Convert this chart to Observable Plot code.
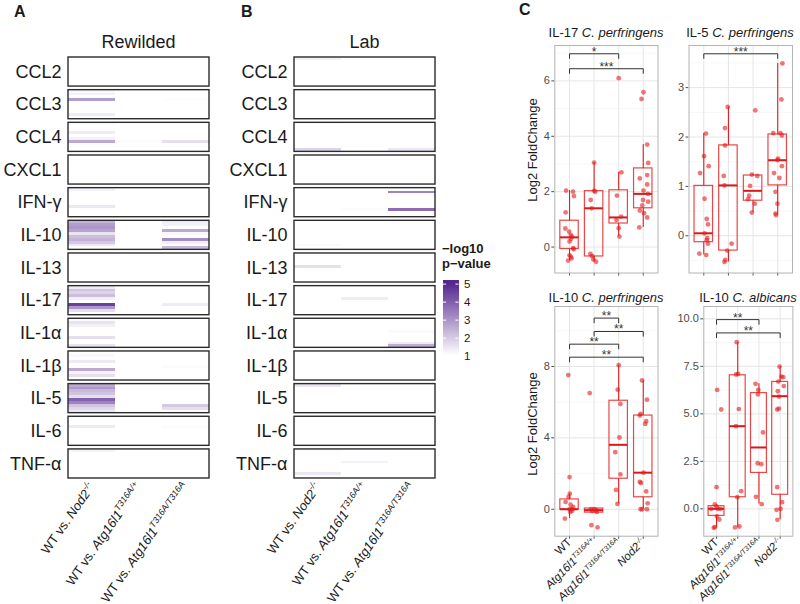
<!DOCTYPE html>
<html><head><meta charset="utf-8">
<script src="https://cdn.jsdelivr.net/npm/d3@7"></script>
<script src="https://cdn.jsdelivr.net/npm/@observablehq/plot@0.6"></script>
<style>
body{margin:0;background:#fff;}
#root{position:relative;width:800px;height:604px;overflow:hidden;background:#fff;}
#root svg{position:absolute;overflow:visible;}
</style></head><body><div id="root"></div>
<script>
const FONT = '"Liberation Sans", Arial, Helvetica, sans-serif';
const RED = "#e41a1c";

// ---------- heatmap data ----------
const cytokines = ["CCL2","CCL3","CCL4","CXCL1","IFN-γ","IL-10","IL-13","IL-17","IL-1α","IL-1β","IL-5","IL-6","TNF-α"];
// comparison labels: [plain, italic gene, superscript]
const comparisons = [["WT vs. ","Nod2","-/-"],["WT vs. ","Atg16l1","T316A/+"],["WT vs. ","Atg16l1","T316A/T316A"]];
// [cytokine, comparison index, sub-row (0 top .. 9 bottom), -log10 p-value]
const rewildedCells = [
  ["CCL3",0,0,1.15],["CCL3",0,1,1.25],["CCL3",0,3,2.8],["CCL3",0,8,1.35],["CCL3",2,3,1.05],
  ["CCL4",0,0,1.1],["CCL4",0,3,1.35],["CCL4",0,5,1.25],["CCL4",0,6,2.6],["CCL4",1,6,1.08],["CCL4",2,6,1.6],
  ["IFN-γ",0,0,1.25],["IFN-γ",0,6,1.45],
  ["IL-10",0,0,2.4],["IL-10",0,1,2.8],["IL-10",0,2,2.9],["IL-10",0,3,2.7],["IL-10",0,4,1.5],["IL-10",0,5,2.2],["IL-10",0,6,2.4],["IL-10",0,7,2.0],["IL-10",0,8,1.4],
  ["IL-10",2,0,1.35],["IL-10",2,1,1.25],["IL-10",2,3,2.6],["IL-10",2,4,1.15],["IL-10",2,6,3.1],["IL-10",2,7,1.3],["IL-10",2,9,2.3],
  ["IL-17",0,0,1.4],["IL-17",0,1,2.1],["IL-17",0,2,1.8],["IL-17",0,3,2.2],["IL-17",0,4,1.3],["IL-17",0,6,4.5],["IL-17",0,7,2.9],["IL-17",0,8,1.6],["IL-17",2,6,1.35],
  ["IL-1α",0,0,1.1],["IL-1α",0,1,1.5],["IL-1α",0,2,1.3],["IL-1α",0,6,1.6],["IL-1α",0,9,1.5],
  ["IL-1β",0,1,1.15],["IL-1β",0,3,1.4],["IL-1β",0,6,2.6],["IL-1β",0,7,1.2],["IL-1β",0,8,1.6],["IL-1β",2,5,1.07],
  ["IL-5",0,0,2.6],["IL-5",0,1,2.9],["IL-5",0,2,2.3],["IL-5",0,3,2.1],["IL-5",0,4,1.6],["IL-5",0,5,3.9],["IL-5",0,6,3.3],["IL-5",0,7,2.1],["IL-5",0,8,1.7],["IL-5",0,9,1.4],
  ["IL-5",2,7,2.0],["IL-5",2,8,1.6],
  ["IL-6",0,3,1.4],["IL-6",2,3,1.06],
  ["TNF-α",0,0,1.2]
];
const labCells = [
  ["CCL2",0,0,1.25],
  ["CCL4",0,0,1.05],["CCL4",0,9,1.8],["CCL4",2,9,1.45],
  ["IFN-γ",1,7,1.06],["IFN-γ",2,1,3.3],["IFN-γ",2,7,3.7],
  ["IL-10",0,8,1.12],
  ["IL-13",0,4,1.6],
  ["IL-17",1,4,1.35],
  ["IL-1α",2,4,1.12],["IL-1α",2,8,1.35],["IL-1α",2,9,2.5],
  ["IL-5",0,0,1.5],
  ["TNF-α",0,0,1.06],["TNF-α",0,8,1.45],["TNF-α",1,4,1.25]
];
const pvalTicks = [1,2,3,4,5];

// ---------- boxplot data (panel C) ----------
// groups: 1 WT, 2 Atg16l1 T316A/+, 3 Atg16l1 T316A/T316A, 4 Nod2 -/-
const groupLabels = [["WT","",""],["","Atg16l1","T316A/+"],["","Atg16l1","T316A/T316A"],["","Nod2","-/-"]];
// points: [group, log2 fold change, horizontal jitter]
const il17Points = [
 [1,2.04,-0.14],[1,2.0,0.14],[1,1.84,0.18],[1,1.25,-0.16],[1,0.67,-0.17],[1,0.56,-0.02],[1,0.44,0.05],[1,0.38,0.1],[1,0.3,0.06],[1,0.2,0.0],[1,-0.04,0.15],[1,-0.08,0.17],[1,-0.3,0.0],[1,-0.35,0.05],[1,-0.41,0.08],[1,-0.49,-0.06],
 [2,3.05,0.0],[2,2.03,0.0],[2,2.0,0.04],[2,1.7,-0.14],[2,1.4,-0.1],[2,-0.25,-0.15],[2,-0.33,-0.08],[2,-0.45,-0.03],[2,-0.53,0.08],
 [3,6.1,0.0],[3,2.7,0.11],[3,1.86,-0.07],[3,1.1,0.1],[3,0.98,-0.09],[3,0.68,0.0],[3,0.38,0.03],
 [4,5.59,0.01],[4,5.35,-0.07],[4,3.7,0.16],[4,3.04,0.2],[4,2.6,0.16],[4,2.48,-0.14],[4,2.26,0.16],[4,2.04,0.01],[4,1.92,0.19],[4,1.7,-0.01],[4,1.64,0.2],[4,1.5,-0.04],[4,1.32,-0.14],[4,1.22,0.03],[4,1.07,0.16],[4,0.71,-0.16]
];
// boxes: [lower whisker, Q1, median, Q3, upper whisker]
const il17Boxes = [[-0.49,-0.07,0.35,0.95,2.04],[-0.53,-0.34,1.4,2.02,3.05],[0.38,0.85,1.07,2.05,2.7],[0.71,1.4,1.92,2.84,3.7]];
const il17Brackets = [[1,3,6.98,"*"],[1,4,6.44,"***"]];
const il17Ticks = [0,2,4,6];

const il5Points = [
 [1,2.07,0.09],[1,1.61,0.01],[1,1.41,0.2],[1,1.27,-0.15],[1,0.75,0.03],[1,0.34,0.12],[1,0.23,0.17],[1,0.05,0.03],[1,-0.05,0.14],[1,-0.09,0.12],[1,-0.16,0.17],[1,-0.36,-0.18],[1,-0.39,0.1],
 [2,2.61,-0.03],[2,2.18,-0.14],[2,1.83,-0.14],[2,1.21,-0.19],[2,1.02,-0.16],[2,-0.16,0.13],[2,-0.3,-0.05],[2,-0.49,-0.13],[2,-0.53,-0.16],
 [3,2.54,0.09],[3,1.24,-0.05],[3,1.21,0.17],[3,1.01,-0.12],[3,0.81,-0.16],[3,0.74,-0.2],[3,0.65,0.07],[3,0.47,-0.05],
 [4,3.49,0.19],[4,2.76,0.15],[4,2.08,-0.18],[4,2.08,0.11],[4,2.03,0.17],[4,1.56,0.01],[4,1.53,-0.01],[4,1.41,0.17],[4,1.27,-0.15],[4,1.17,0.07],[4,0.89,-0.09],[4,0.65,-0.01],[4,0.45,-0.09],[4,0.42,-0.07]
];
const il5Boxes = [[-0.39,-0.13,0.05,1.01,2.07],[-0.53,-0.3,1.02,1.83,2.61],[0.47,0.71,0.91,1.22,1.24],[0.42,1.02,1.53,2.05,3.49]];
const il5Brackets = [[1,4,3.685,"***"]];
const il5Ticks = [0,1,2,3];

const il10cpPoints = [
 [1,7.52,-0.05],[1,1.8,0.0],[1,0.87,0.01],[1,0.69,-0.04],[1,0.41,-0.16],[1,0.26,0.04],[1,0.13,0.15],[1,0.0,0.0],[1,0.02,0.1],[1,-0.09,0.11],[1,-0.15,0.03],[1,-0.52,-0.19],
 [2,6.51,-0.18],[2,0.0,-0.13],[2,0.0,0.0],[2,-0.05,0.09],[2,-0.1,-0.07],[2,-0.15,0.11],[2,-0.89,-0.11],[2,-1.02,0.14],
 [3,8.07,0.0],[3,6.7,-0.04],[3,5.9,0.07],[3,4.02,0.03],[3,3.2,-0.14],[3,1.95,0.07],[3,1.08,-0.11],[3,0.3,-0.05],
 [4,7.22,-0.05],[4,6.14,0.15],[4,5.34,-0.11],[4,5.25,-0.14],[4,4.93,0.12],[4,4.78,0.08],[4,2.05,0.01],[4,1.53,-0.14],[4,1.47,-0.09],[4,1.0,0.12],[4,0.33,0.18],[4,0.0,-0.11],[4,0.0,-0.04],[4,0.0,0.15]
];
const il10cpBoxes = [[-0.52,-0.02,0.0,0.55,0.87],[-0.2,-0.19,-0.05,0.04,0.04],[0.3,1.71,3.61,6.08,8.07],[0.0,0.67,2.05,5.25,7.22]];
const il10cpBrackets = [[2,3,10.71,"**"],[2,4,9.96,"**"],[1,3,9.25,"**"],[1,4,8.52,"**"]];
const il10cpTicks = [0,4,8];

const il10caPoints = [
 [1,6.26,0.03],[1,5.23,0.22],[1,1.14,0.0],[1,0.23,-0.08],[1,0.12,0.0],[1,0.0,-0.25],[1,0.0,0.06],[1,0.0,0.19],[1,-0.4,0.02],[1,-0.56,0.13],[1,-0.96,-0.08],[1,-1.0,-0.13],
 [2,8.77,-0.05],[2,7.1,0.02],[2,7.07,-0.08],[2,5.25,0.05],[2,4.35,-0.08],[2,0.93,0.16],[2,0.61,-0.02],[2,-0.93,0.08],[2,-0.98,-0.13],
 [3,6.58,-0.16],[3,6.26,-0.03],[3,6.02,-0.05],[3,4.02,0.19],[3,2.4,-0.06],[3,2.35,0.11],[3,0.63,-0.14],[3,0.25,0.13],
 [4,7.49,-0.03],[4,6.96,0.06],[4,6.93,0.14],[4,6.7,-0.09],[4,6.46,0.17],[4,6.19,-0.11],[4,5.91,-0.06],[4,5.28,-0.06],[4,5.23,-0.14],[4,1.14,-0.14],[4,0.35,0.09],[4,0.0,0.02],[4,-0.05,-0.17],[4,-0.58,-0.13]
];
const il10caBoxes = [[-1.0,-0.37,0.0,0.14,0.23],[-0.98,0.61,4.35,7.03,8.77],[0.25,1.89,3.23,6.09,6.58],[-0.58,0.74,5.93,6.68,7.49]];
const il10caBrackets = [[1,3,9.96,"**"],[1,4,9.26,"**"]];
const il10caTicks = [0,2.5,5,7.5,10];

// ---------- helpers ----------
const root = document.getElementById("root");
const NS = "http://www.w3.org/2000/svg";
function place(svg, left, top) { svg.style.left = left + "px"; svg.style.top = top + "px"; root.appendChild(svg); return svg; }
function setRich(t, [plain, ital, sup], supSize) {
  t.textContent = "";
  if (plain) { const s = document.createElementNS(NS, "tspan"); s.textContent = plain; t.appendChild(s); }
  if (ital) { const s = document.createElementNS(NS, "tspan"); s.textContent = ital; s.setAttribute("font-style", "italic"); t.appendChild(s); }
  if (sup) { const s = document.createElementNS(NS, "tspan"); s.textContent = sup; s.setAttribute("font-style", "italic"); s.setAttribute("font-size", supSize); s.setAttribute("dy", "-0.6em"); t.appendChild(s); }
}
function richAxis(svg, specs, size, supSize, color) {
  svg.querySelectorAll('g[aria-label="x-axis tick label"] text').forEach(t => {
    const k = t.textContent.trim();
    if (!(k in specs)) return;
    t.style.fontSize = size + "px";
    if (color) t.setAttribute("fill", color);
    setRich(t, specs[k], supSize);
  });
}
const colorScale = {type: "linear", domain: [1, 5], range: ["#ffffff", "#54278f"], clamp: true};

function heatmap(cells, left, mL) {
  const H = 0.089, BOX = 0.89;
  const data = cells.map(([cy, c, s, v]) => ({r: cytokines.indexOf(cy), c, s, v}));
  const svg = Plot.plot({
    width: mL + 141 + 6, height: 554,
    marginLeft: mL, marginRight: 6, marginTop: 7, marginBottom: 126,
    style: {fontFamily: FONT, fontSize: "18px", color: "#1a1a1a", background: "transparent"},
    x: {domain: [0, 3], ticks: [0.5, 1.5, 2.5], tickFormat: d => "h" + Math.floor(d), tickSize: 0, tickPadding: 6, tickRotate: -55, label: null},
    y: {domain: [13 - (1 - BOX), 0], ticks: cytokines.map((_, i) => i + BOX / 2), tickFormat: d => cytokines[Math.round(d - BOX / 2)], tickSize: 0, tickPadding: 7, label: null},
    color: colorScale,
    marks: [
      Plot.rect(data, {x1: "c", x2: d => d.c + 1, y1: d => d.r + d.s * H, y2: d => d.r + (d.s + 1) * H, fill: "v", shapeRendering: "crispEdges"}),
      Plot.rect(cytokines, {x1: 0, x2: 3, y1: (d, i) => i, y2: (d, i) => i + BOX, fill: "none", stroke: "#2b2b2b", strokeWidth: 1.4})
    ]
  });
  richAxis(svg, {h0: comparisons[0], h1: comparisons[1], h2: comparisons[2]}, 13, "0.68em");
  return place(svg, left, 50);
}

function boxPanel({points, boxes, brackets, domain, ticks, fmt, left, top, width, height, mL, mR, mT, mB, labels}) {
  const pts = points.map(([g, v, dx]) => ({x: g + dx, v}));
  const bx = boxes.map(([lo, q1, med, q3, hi], i) => ({g: i + 1, lo, q1, med, q3, hi}));
  const br = brackets.map(([a, b, y, label]) => ({a, b, y, label}));
  const tip = 0.022 * (domain[1] - domain[0]);
  const step = ticks[1] - ticks[0];
  const minor = [];
  for (let t = ticks[0] - step / 2; t <= domain[1]; t += step) if (t >= domain[0]) minor.push(t);
  const W = 0.375;
  const svg = Plot.plot({
    width, height, marginLeft: mL, marginRight: mR, marginTop: mT, marginBottom: mB,
    style: {fontFamily: FONT, fontSize: "11px", color: "#4d4d4d", background: "transparent"},
    x: {domain: [0.4, 4.6], ticks: [1, 2, 3, 4], tickSize: 3, tickPadding: 1, tickFormat: labels ? (d => "g" + d) : () => "", tickRotate: labels ? -45 : 0, label: null},
    y: {domain, ticks, tickSize: 3, tickPadding: 2, tickFormat: fmt, label: null},
    marks: [
      Plot.ruleY(minor, {stroke: "#f1f1f1", strokeWidth: 0.6}),
      Plot.ruleY(ticks, {stroke: "#e3e3e3", strokeWidth: 0.9}),
      Plot.ruleX([1, 2, 3, 4], {stroke: "#e3e3e3", strokeWidth: 0.9}),
      Plot.frame({stroke: "#b3b3b3"}),
      Plot.ruleX(bx, {x: "g", y1: "lo", y2: "q1", stroke: RED, strokeWidth: 1.1}),
      Plot.ruleX(bx, {x: "g", y1: "q3", y2: "hi", stroke: RED, strokeWidth: 1.1}),
      Plot.rect(bx, {x1: d => d.g - W, x2: d => d.g + W, y1: "q1", y2: "q3", fill: "none", stroke: RED, strokeOpacity: 0.8, strokeWidth: 1.2}),
      Plot.ruleY(bx, {y: "med", x1: d => d.g - W, x2: d => d.g + W, stroke: "#d7191c", strokeWidth: 2}),
      Plot.dot(pts, {x: "x", y: "v", r: 2.4, fill: RED, fillOpacity: 0.6, stroke: "none"}),
      Plot.link(br, {x1: "a", x2: "b", y1: "y", y2: "y", stroke: "#333", strokeWidth: 1}),
      Plot.link(br, {x1: "a", x2: "a", y1: "y", y2: d => d.y - tip, stroke: "#333", strokeWidth: 1}),
      Plot.link(br, {x1: "b", x2: "b", y1: "y", y2: d => d.y - tip, stroke: "#333", strokeWidth: 1}),
      Plot.text(br, {x: d => (d.a + d.b) / 2, y: "y", text: "label", lineAnchor: "bottom", dy: 2, fontSize: 12, fill: "#333"})
    ]
  });
  if (labels) richAxis(svg, {g1: groupLabels[0], g2: groupLabels[1], g3: groupLabels[2], g4: groupLabels[3]}, 11.5, "0.62em", "#1a1a1a");
  return place(svg, left, top);
}

// ---------- panels A, B ----------
heatmap(rewildedCells, 0, 68);
heatmap(labCells, 220, 74);

// legend colour bar
const legendSteps = d3.range(0.9, 5.2, 0.02);
place(Plot.plot({
  width: 40, height: 100, marginLeft: 5, marginRight: 19.5, marginTop: 10, marginBottom: 10,
  style: {fontFamily: FONT, fontSize: "11.5px", color: "#1a1a1a", background: "transparent"},
  x: {domain: [0, 1], axis: null},
  y: {domain: [0.76, 5.2], axis: null},
  color: colorScale,
  marks: [
    Plot.rect(legendSteps, {x1: 0, x2: 1, y1: d => d, y2: d => d + 0.03, fill: d => d, shapeRendering: "crispEdges"}),
    Plot.ruleY(pvalTicks, {x1: 0, x2: 0.2, stroke: "white", strokeWidth: 1}),
    Plot.ruleY(pvalTicks, {x1: 0.8, x2: 1, stroke: "white", strokeWidth: 1}),
    Plot.text(pvalTicks, {x: 1, y: d => d, text: d => String(d), dx: 5, textAnchor: "start", fill: "#1a1a1a"})
  ]
}), 438, 270);

// ---------- panel C ----------
boxPanel({points: il17Points, boxes: il17Boxes, brackets: il17Brackets, domain: [-0.937, 7.279], ticks: il17Ticks, fmt: d3.format("d"),
  left: 515, top: 40, width: 150, height: 244.5, mL: 39.3, mR: 7.5, mT: 5, mB: 12, labels: false});
boxPanel({points: il5Points, boxes: il5Boxes, brackets: il5Brackets, domain: [-0.754, 3.853], ticks: il5Ticks, fmt: d3.format("d"),
  left: 665, top: 40, width: 135, height: 244.5, mL: 23.5, mR: 8, mT: 5, mB: 12, labels: false});
boxPanel({points: il10cpPoints, boxes: il10cpBoxes, brackets: il10cpBrackets, domain: [-1.51, 11.36], ticks: il10cpTicks, fmt: d3.format("d"),
  left: 515, top: 300, width: 150, height: 304, mL: 39.3, mR: 7.5, mT: 6, mB: 68.3, labels: true});
boxPanel({points: il10caPoints, boxes: il10caBoxes, brackets: il10caBrackets, domain: [-1.44, 10.65], ticks: il10caTicks, fmt: d3.format(".1f"),
  left: 665, top: 300, width: 135, height: 304, mL: 38.3, mR: 7.6, mT: 6, mB: 68.3, labels: true});

// ---------- free text (titles, letters, axis titles) ----------
const ov = d3.create("svg").attr("width", 800).attr("height", 604)
  .style("left", "0px").style("top", "0px").style("pointer-events", "none")
  .attr("font-family", FONT).attr("fill", "#1a1a1a");
function txt(x, y, parts, o = {}) {
  const t = ov.append("text").attr("x", x).attr("y", y).attr("font-size", o.size || 13)
    .attr("text-anchor", o.anchor || "start").attr("font-weight", o.bold ? "bold" : null);
  if (o.rotate) t.attr("transform", `rotate(${o.rotate},${x},${y})`);
  for (const p of parts) {
    const s = t.append("tspan").text(typeof p === "string" ? p : p.t);
    if (p.i) s.attr("font-style", "italic");
  }
  return t;
}
txt(14, 17, ["A"], {size: 16, bold: true});
txt(241, 17, ["B"], {size: 16, bold: true});
txt(519, 15, ["C"], {size: 16, bold: true});
txt(138.5, 48, ["Rewilded"], {size: 18, anchor: "middle"});
txt(364.5, 48, ["Lab"], {size: 18, anchor: "middle"});
txt(442, 253, ["−log10"], {size: 13, bold: true});
txt(442, 268, ["p−value"], {size: 13, bold: true});
txt(606, 36.5, ["IL-17 ", {t: "C. perfringens", i: true}], {size: 13, anchor: "middle"});
txt(740, 36.5, ["IL-5 ", {t: "C. perfringens", i: true}], {size: 13, anchor: "middle"});
txt(606, 301.5, ["IL-10 ", {t: "C. perfringens", i: true}], {size: 13, anchor: "middle"});
txt(748, 301.5, ["IL-10 ", {t: "C. albicans", i: true}], {size: 13, anchor: "middle"});
txt(537, 150, ["Log2 FoldChange"], {size: 13, anchor: "middle", rotate: -90});
txt(537, 424, ["Log2 FoldChange"], {size: 13, anchor: "middle", rotate: -90});
root.appendChild(ov.node());
</script></body></html>
